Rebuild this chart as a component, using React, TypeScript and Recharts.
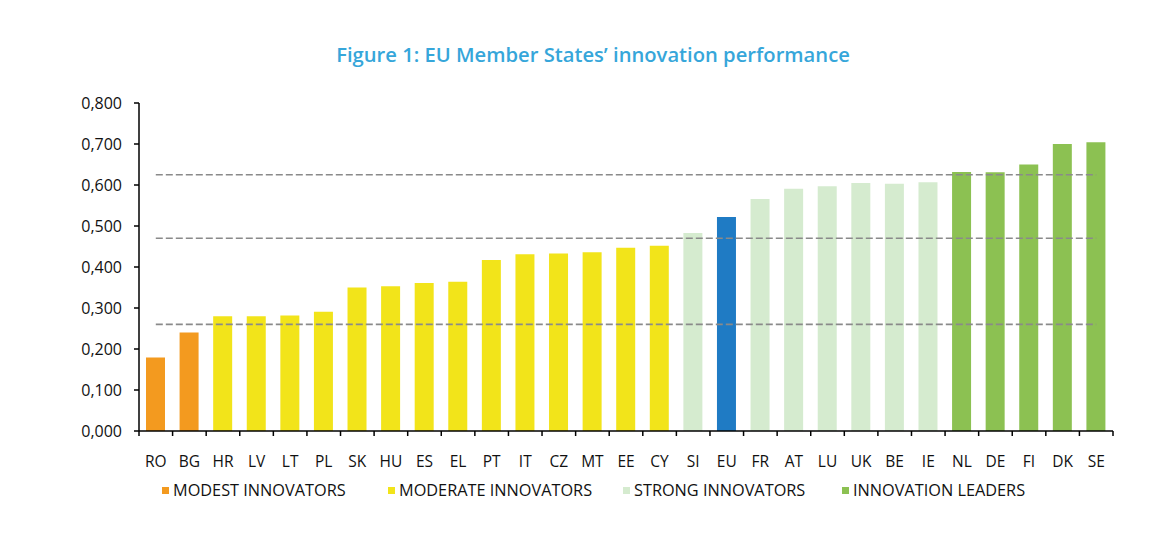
import { BarChart, Bar, Cell, XAxis, YAxis, ReferenceLine } from 'recharts'

const countries = ['RO', 'BG', 'HR', 'LV', 'LT', 'PL', 'SK', 'HU', 'ES', 'EL', 'PT', 'IT', 'CZ', 'MT', 'EE', 'CY', 'SI', 'EU', 'FR', 'AT', 'LU', 'UK', 'BE', 'IE', 'NL', 'DE', 'FI', 'DK', 'SE']
const scores = [0.179, 0.240, 0.280, 0.280, 0.282, 0.291, 0.350, 0.353, 0.361, 0.364, 0.417, 0.431, 0.433, 0.436, 0.447, 0.452, 0.483, 0.522, 0.566, 0.591, 0.597, 0.605, 0.603, 0.607, 0.632, 0.631, 0.650, 0.700, 0.704]
const groups = ['modest', 'modest', 'moderate', 'moderate', 'moderate', 'moderate', 'moderate', 'moderate', 'moderate', 'moderate', 'moderate', 'moderate', 'moderate', 'moderate', 'moderate', 'moderate', 'strong', 'eu', 'strong', 'strong', 'strong', 'strong', 'strong', 'strong', 'leader', 'leader', 'leader', 'leader', 'leader']
const thresholds = [0.625, 0.47, 0.26]
const yTicks = [0, 0.1, 0.2, 0.3, 0.4, 0.5, 0.6, 0.7, 0.8]

const groupColors: Record<string, string> = {
  modest: '#F39A1F',
  moderate: '#F2E41A',
  strong: '#D5EBCF',
  leader: '#8CC152',
  eu: '#1F7BC4',
}

const legendItems = [
  { key: 'modest', label: 'MODEST INNOVATORS', left: 162 },
  { key: 'moderate', label: 'MODERATE INNOVATORS', left: 388 },
  { key: 'strong', label: 'STRONG INNOVATORS', left: 623 },
  { key: 'leader', label: 'INNOVATION LEADERS', left: 842 },
]

const data = countries.map((c, i) => ({ country: c, score: scores[i], group: groups[i] }))

const W = 1162
const H = 559
const PLOT_LEFT = 139
const PLOT_RIGHT = 1113
const STEP = (PLOT_RIGHT - PLOT_LEFT) / countries.length
const FONT = '"Open Sans", Verdana, sans-serif'

function CountryTick({ x, y, payload, index }: any) {
  const last = index === countries.length - 1
  return (
    <g>
      <line x1={x - STEP / 2} x2={x - STEP / 2} y1={y} y2={y + 5} stroke="#000" strokeWidth={1.5} />
      {last && <line x1={x + STEP / 2} x2={x + STEP / 2} y1={y} y2={y + 5} stroke="#000" strokeWidth={1.5} />}
      <text x={x} y={y + 36} textAnchor="middle" fontSize={15.5} fill="#111" fontFamily={FONT}>
        {payload.value}
      </text>
    </g>
  )
}

export default function App() {
  return (
    <div style={{ position: 'absolute', left: 0, top: 0, width: W, height: H, background: '#fff', fontFamily: FONT }}>
      <div
        style={{
          position: 'absolute', left: 0, top: 40, width: 1186, textAlign: 'center',
          color: '#36A6DA', fontSize: 20.2, fontWeight: 600, fontFamily: '"Open Sans", sans-serif',
        }}
      >
        Figure 1: EU Member States’ innovation performance
      </div>
      <BarChart width={W} height={H} data={data} margin={{ top: 103, right: W - PLOT_RIGHT, bottom: 88, left: 79 }}>
        <XAxis
          dataKey="country" interval={0} height={40} tickLine={false} tickSize={0} tickMargin={0}
          axisLine={{ stroke: '#000', strokeWidth: 1.5 }} tick={<CountryTick />}
        />
        <YAxis
          domain={[0, 0.8]} ticks={yTicks} width={60} interval={0}
          tickFormatter={(v: number) => v.toFixed(3).replace('.', ',')}
          tick={{ fill: '#111', fontSize: 16, fontFamily: FONT }}
          tickSize={5} tickMargin={12}
          tickLine={{ stroke: '#000', strokeWidth: 1.5 }} axisLine={{ stroke: '#000', strokeWidth: 1.5 }}
        />
        <Bar dataKey="score" barSize={19} isAnimationActive={false}>
          {data.map((d) => (
            <Cell key={d.country} fill={groupColors[d.group]} />
          ))}
        </Bar>
        {thresholds.map((t) => (
          <ReferenceLine
            key={t}
            segment={[{ x: countries[0], y: t }, { x: countries[countries.length - 1], y: t }]}
            stroke="#8A8A8A" strokeWidth={1.6} strokeDasharray="7 3"
          />
        ))}
      </BarChart>
      {legendItems.map((l) => (
        <div
          key={l.key}
          style={{
            position: 'absolute', left: l.left, top: 479, display: 'flex', alignItems: 'center',
            fontSize: 16.3, color: '#111', whiteSpace: 'nowrap',
          }}
        >
          <span style={{ width: 7, height: 7, background: groupColors[l.key], marginRight: 4, display: 'inline-block' }} />
          {l.label}
        </div>
      ))}
    </div>
  )
}
